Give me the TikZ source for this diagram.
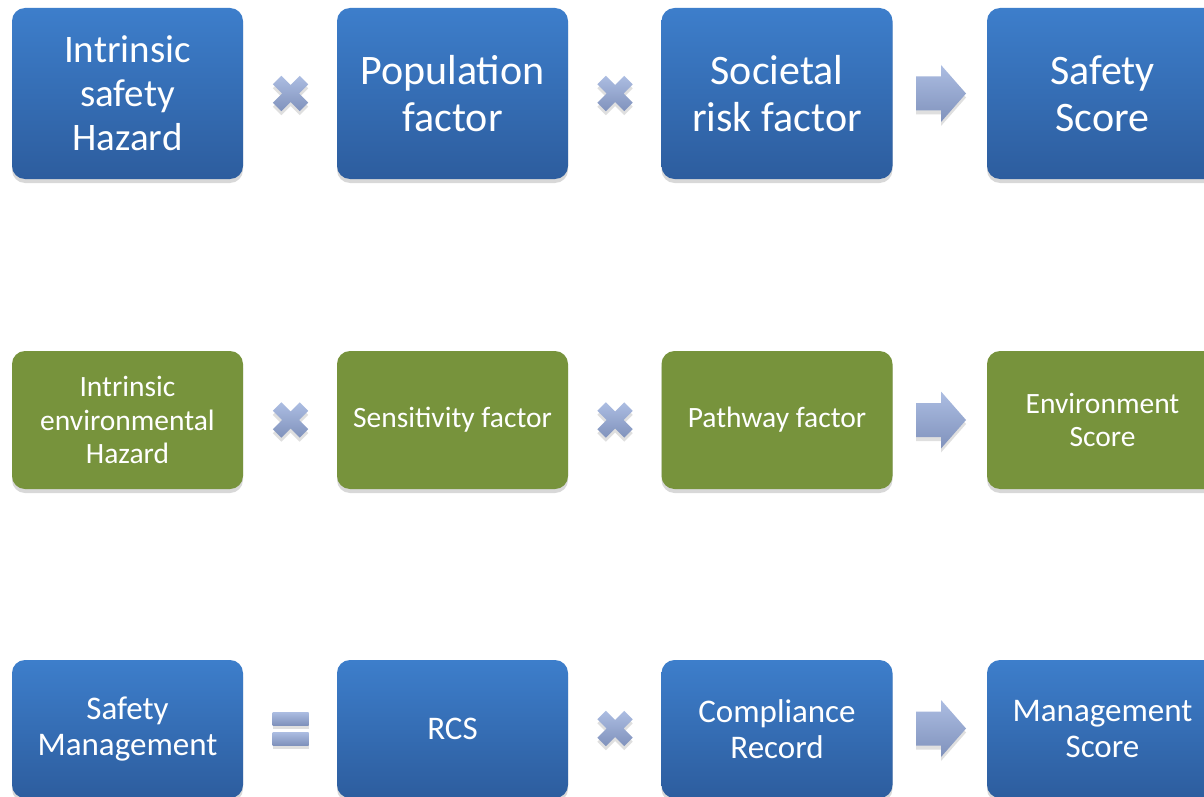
\documentclass[tikz,border=0pt]{standalone}
\usepackage{fontspec}
\setmainfont{Carlito}
\usetikzlibrary{shadows}

\definecolor{boxtop}{RGB}{61,126,203}
\definecolor{boxbot}{RGB}{45,93,158}
\definecolor{envgreen}{RGB}{119,147,60}
\definecolor{optop}{RGB}{172,189,226}
\definecolor{opbot}{RGB}{128,146,188}

\tikzset{
  factor/.style={rounded corners=13pt, minimum width=231pt, inner sep=0pt,
    align=center, text=white,
    drop shadow={shadow xshift=0pt, shadow yshift=-4pt, opacity=0.3}},
  bluefac/.style={factor, top color=boxtop, bottom color=boxbot},
  greenfac/.style={factor, fill=envgreen},
  opshape/.style={top color=optop, bottom color=opbot,
    drop shadow={shadow xshift=0pt, shadow yshift=-4pt, opacity=0.25}}
}

\begin{document}
\begin{tikzpicture}[x=1pt,y=-1pt]
      \useasboundingbox[fill=white] (0,0) rectangle (1204,797);

      % safety row
      \begin{scope}[every node/.style={bluefac, minimum height=171pt}]
        \node[font=\fontsize{39}{44}\selectfont] (sa1) at (127.5,93.5) {Intrinsic\\safety\\Hazard};
        \node[font=\fontsize{42}{47}\selectfont] (sa2) at (452.5,93.5) {Population\\factor};
        \node[font=\fontsize{42}{47}\selectfont] (sa3) at (777,93.5) {Societal\\risk factor};
        \node[font=\fontsize{42}{47}\selectfont] (sa4) at (1102.5,93.5) {Safety\\Score};
      \end{scope}

      % environment row
      \begin{scope}[every node/.style={greenfac, minimum height=138pt,
          font=\fontsize{29.5}{33.5}\selectfont}]
        \node (en1) at (127.5,420) {Intrinsic\\environmental\\Hazard};
        \node (en2) at (452.5,420) {Sensitivity factor};
        \node (en3) at (777,420) {Pathway factor};
        \node (en4) at (1102.5,420) {Environment\\Score};
      \end{scope}

      % management row
      \begin{scope}[every node/.style={bluefac, minimum height=138pt,
          font=\fontsize{33}{36.5}\selectfont}]
        \node (ma1) at (127.5,729) {Safety\\Management};
        \node (ma2) at (452.5,729) {RCS};
        \node (ma3) at (777,729) {Compliance\\Record};
        \node (ma4) at (1102.5,729) {Management\\Score};
      \end{scope}

      \coordinate (x1) at (290.5,93.5);
      \coordinate (x2) at (615,93.5);
      \coordinate (x3) at (290.5,420);
      \coordinate (x4) at (615,420);
      \coordinate (x5) at (615,728.5);
      \coordinate (q1) at (290.5,728.5);

      % times signs
      \foreach \m in {x1,x2,x3,x4,x5}
        \shade[opshape,shift={(\m)}] (0,-8.5) -- (9.2,-17.7) -- (17.7,-9.2) -- (8.5,0)
          -- (17.7,9.2) -- (9.2,17.7) -- (0,8.5) -- (-9.2,17.7) -- (-17.7,9.2)
          -- (-8.5,0) -- (-17.7,-9.2) -- (-9.2,-17.7) -- cycle;

      % equals sign
      \shade[opshape,shift={(q1)}] (-18,-16.5) rectangle (18,-3.5);
      \shade[opshape,shift={(q1)}] (-18,3.5) rectangle (18,16.5);

      % result arrows
      \foreach \y in {93.5,420,728.5}
        \shade[opshape] (916,\y-17) -- (941,\y-17) -- (941,\y-28.5) -- (966,\y)
          -- (941,\y+28.5) -- (941,\y+17) -- (916,\y+17) -- cycle;
\end{tikzpicture}
\end{document}
